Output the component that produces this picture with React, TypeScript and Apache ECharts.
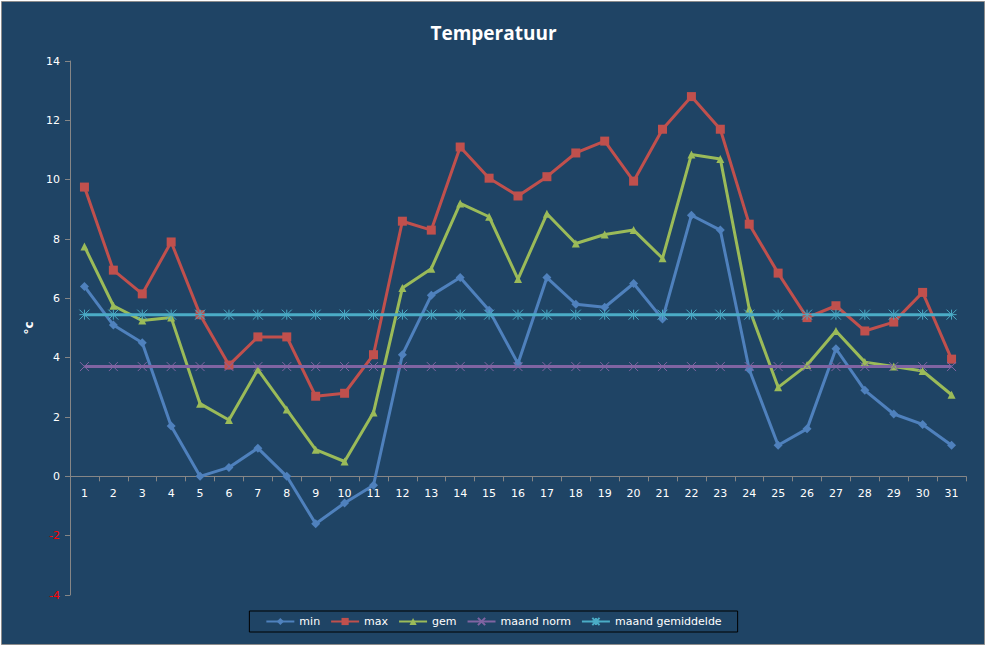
import React, { useEffect, useRef } from "react";
import * as echarts from "echarts";

const days = Array.from({ length: 31 }, (_, i) => String(i + 1));
const minTemp = [6.4, 5.1, 4.5, 1.7, 0.0, 0.3, 0.95, 0.0, -1.6, -0.9, -0.3, 4.1, 6.1, 6.7, 5.6, 3.8, 6.7, 5.8, 5.7, 6.5, 5.3, 8.8, 8.3, 3.6, 1.05, 1.6, 4.3, 2.9, 2.1, 1.75, 1.05];
const maxTemp = [9.75, 6.95, 6.15, 7.9, 5.45, 3.75, 4.7, 4.7, 2.7, 2.8, 4.1, 8.6, 8.3, 11.1, 10.05, 9.45, 10.1, 10.9, 11.3, 9.95, 11.7, 12.8, 11.7, 8.5, 6.85, 5.35, 5.75, 4.9, 5.2, 6.2, 3.95];
const gemTemp = [7.75, 5.75, 5.25, 5.35, 2.45, 1.9, 3.6, 2.25, 0.9, 0.5, 2.15, 6.35, 7.0, 9.2, 8.75, 6.65, 8.85, 7.85, 8.15, 8.3, 7.35, 10.85, 10.7, 5.65, 3.0, 3.75, 4.9, 3.85, 3.7, 3.55, 2.75];
const maandNorm = days.map(() => 3.7);
const maandGem = days.map(() => 5.45);

const seriesNames = ["min", "max", "gem", "maand norm", "maand gemiddelde"];
const colors = ["#4F81BD", "#C0504D", "#9BBB59", "#8064A2", "#4BACC6"];

const yMin = -4;
const yMax = 14;

const crossSym = "path://M0,0L10,10M10,0L0,10";
const starSym = "path://M5,0L5,10M0,0L10,10M10,0L0,10M0,5L10,5";

export default function App() {
  const ref = useRef<HTMLDivElement>(null);
  useEffect(() => {
    document.body.style.margin = "0";
    const chart = echarts.init(ref.current!, null, { renderer: "svg" });
    const font = "DejaVu Sans";
    const gridTop = 61;
    const gridBottom = 53;
    const plotH = 648 - gridTop - gridBottom;
    const zeroOffset = (plotH * (0 - yMin)) / (yMax - yMin);
    const mk = (i: number, data: number[], symbol: string, size: number, stroke = false) => ({
      name: seriesNames[i],
      type: "line",
      data,
      symbol,
      symbolSize: size,
      showAllSymbol: true,
      lineStyle: { width: 3, color: colors[i] },
      itemStyle: stroke
        ? { color: colors[i], borderColor: colors[i], borderWidth: 1 }
        : { color: colors[i] },
      emphasis: { disabled: true },
    });
    chart.setOption({
      animation: false,
      backgroundColor: "transparent",
      color: colors,
      graphic: [
        {
          type: "rect",
          z: -100,
          silent: true,
          shape: { x: 1.5, y: 1.5, width: 983, height: 643 },
          style: { fill: "#1F4465", stroke: "#8C8C8C", lineWidth: 1 },
        },
      ],
      title: {
        text: "Temperatuur",
        left: "center",
        top: 18,
        textStyle: { color: "#fff", fontSize: 19, fontWeight: "bold", fontFamily: "Open Sans" },
      },
      grid: { left: 70, right: 21, top: gridTop, bottom: gridBottom, containLabel: false },
      legend: {
        left: "center",
        top: 611,
        data: seriesNames,
        borderColor: "#000",
        borderWidth: 1,
        padding: [5, 16, 5, 16],
        itemGap: 10,
        itemWidth: 28,
        itemHeight: 9,
        textStyle: { color: "#fff", fontSize: 11, fontFamily: font },
      },
      xAxis: {
        type: "category",
        data: days,
        boundaryGap: true,
        position: "bottom",
        offset: -zeroOffset,
        axisLine: { onZero: false, lineStyle: { color: "#868686", width: 1 } },
        axisTick: { show: true, length: 5, lineStyle: { color: "#868686" } },
        axisLabel: { color: "#fff", fontSize: 11, fontFamily: font, margin: 12, interval: 0 },
        splitLine: { show: false },
      },
      yAxis: {
        type: "value",
        min: yMin,
        max: yMax,
        interval: 2,
        name: "°c",
        nameLocation: "middle",
        nameGap: 33,
        nameRotate: 90,
        nameTextStyle: { color: "#fff", fontSize: 12, fontFamily: font, fontWeight: "bold" },
        axisLine: { show: true, lineStyle: { color: "#868686", width: 1 } },
        axisTick: { show: true, length: 5, lineStyle: { color: "#868686" } },
        axisLabel: {
          fontSize: 11,
          fontFamily: font,
          margin: 10,
          color: (v: any) => (Number(v) < 0 ? "#FF0000" : "#fff"),
        },
        splitLine: { show: false },
      },
      series: [
        mk(0, minTemp, "diamond", 9),
        mk(1, maxTemp, "rect", 9),
        mk(2, gemTemp, "triangle", 8),
        mk(3, maandNorm, crossSym, 9, true),
        mk(4, maandGem, starSym, 10, true),
      ],
    });
    return () => chart.dispose();
  }, []);
  return (
    <div
      ref={ref}
      style={{ width: 987, height: 648, position: "absolute", left: 0, top: 0, background: "#fff" }}
    />
  );
}
